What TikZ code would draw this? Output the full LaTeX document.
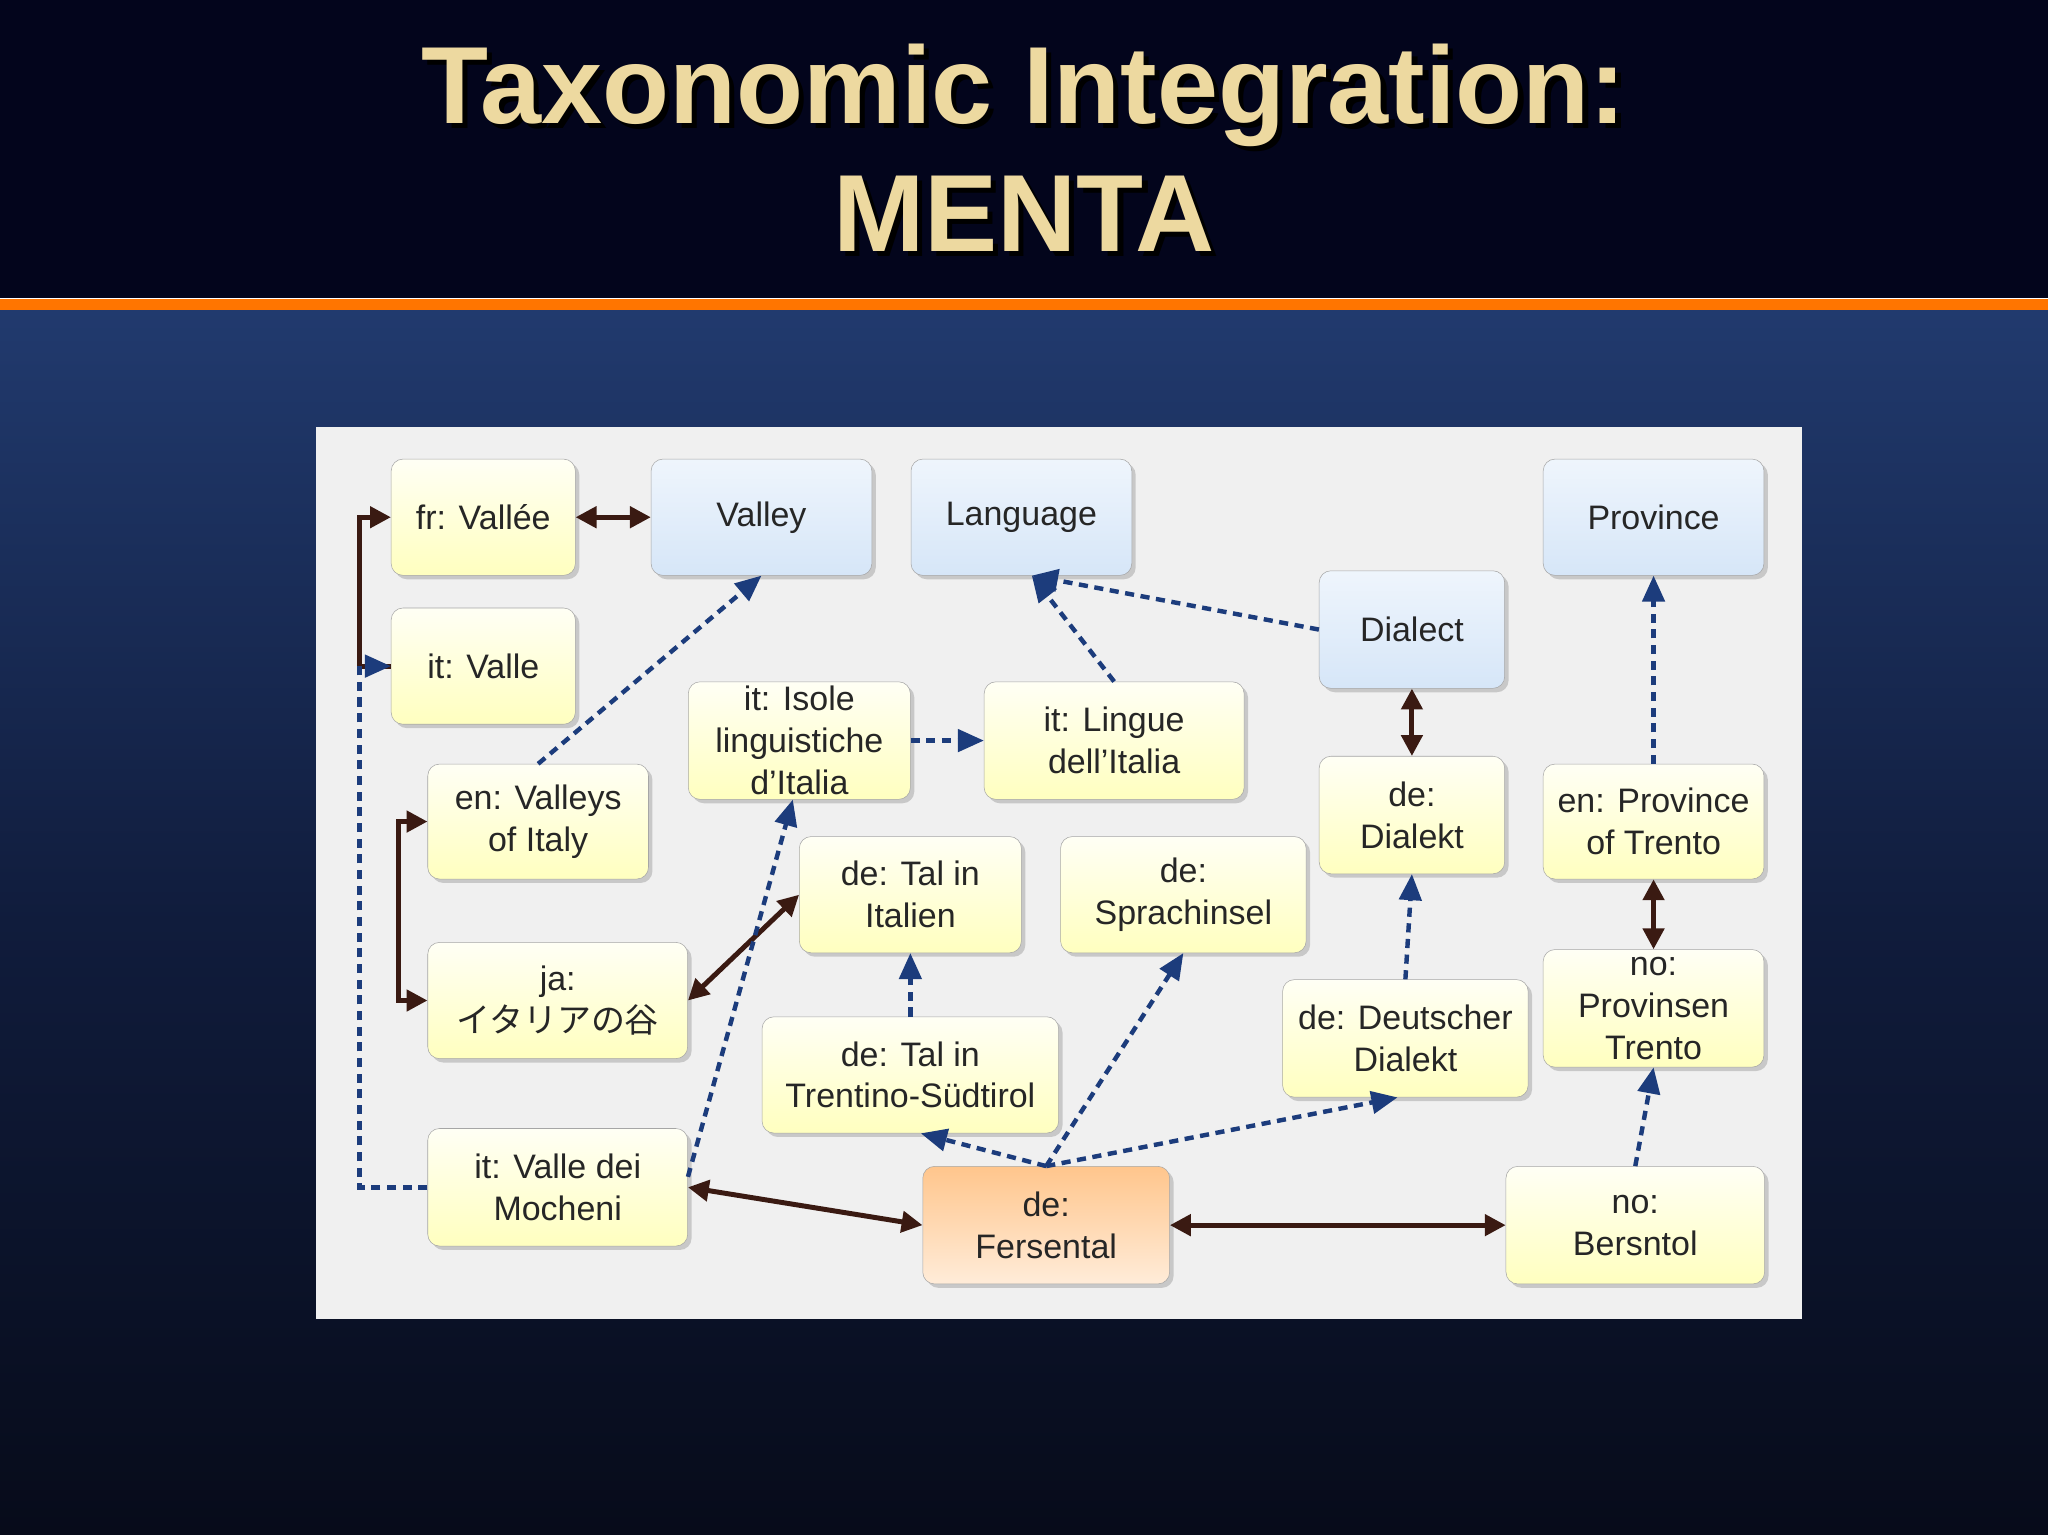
\documentclass[tikz,border=0pt]{standalone}
\usepackage{fontspec}
\setmainfont{Liberation Sans}
\newfontfamily\jpfont{Noto Sans CJK JP}
\usetikzlibrary{arrows.meta,shadows,calc}
\definecolor{tan}{HTML}{EDD9A0}
\definecolor{brn}{HTML}{3A1A12}
\definecolor{bl}{HTML}{1C3C7C}
\definecolor{bgtop}{HTML}{213A6E}
\definecolor{bgmid}{HTML}{101C3C}
\definecolor{bgbot}{HTML}{070B1A}
\definecolor{band}{HTML}{03051C}
\definecolor{bluebox}{HTML}{D6E6F8}
\tikzset{
 box/.style={draw=gray!70,rounded corners=9pt,align=center,inner sep=0pt,
   font=\fontsize{26}{32}\selectfont,text=black!85,
   drop shadow={shadow xshift=3pt,shadow yshift=-3pt,opacity=0.35}},
 ybox/.style={box,top color=yellow!4,bottom color=yellow!25!white},
 bbox/.style={box,top color=bluebox!40!white,bottom color=bluebox},
 obox/.style={box,top color=orange!45!white,bottom color=orange!15!white},
 dbl/.style={brn,line width=3.8pt,{Triangle[length=16pt,width=16pt]}-{Triangle[length=16pt,width=16pt]}},
 one/.style={brn,line width=3.8pt,-{Triangle[length=16pt,width=16pt]}},
 dsh/.style={bl,line width=3.4pt,dash pattern=on 7pt off 5pt,-{Triangle[length=20pt,width=17pt]}}
}
\newcommand\nd[6]{\node[#1,minimum width=#4pt,minimum height=#5pt] (#2) at (#3) {#6};}
\begin{document}
\begin{tikzpicture}[x=1pt,y=-1pt]
\useasboundingbox (0,0) rectangle (1568,1175);
\shade[top color=bgtop, bottom color=bgbot, middle color=bgmid] (0,237) rectangle (1568,1175);
\fill[band] (0,0) rectangle (1568,228);
\fill[orange!80!red!90!yellow] (0,229) rectangle (1568,237);
\node[text=black,font=\bfseries\fontsize{84}{98}\selectfont,align=center] at (788,117) {Taxonomic Integration:\\MENTA};
\node[text=tan,font=\bfseries\fontsize{84}{98}\selectfont,align=center] (title) at (784,113) {Taxonomic Integration:\\MENTA};
\fill[gray!12] (242,327) rectangle (1380,1010);
\nd{ybox}{fr}{370,396}{141}{89}{fr: Vallée}
\nd{bbox}{valley}{583,396}{169}{89}{Valley}
\nd{bbox}{lang}{782,396}{169}{89}{Language}
\nd{bbox}{prov}{1266,396}{169}{89}{Province}
\nd{bbox}{dial}{1081,482}{142}{90}{Dialect}
\nd{ybox}{itvalle}{370,510}{141}{89}{it: Valle}
\nd{ybox}{isole}{612,567}{170}{90}{it: Isole\\linguistiche\\d'Italia}
\nd{ybox}{lingue}{853,567}{199}{90}{it: Lingue\\dell'Italia}
\nd{ybox}{dedial}{1081,624}{142}{90}{de:\\Dialekt}
\nd{ybox}{enprov}{1266,629}{169}{88}{en: Province\\of Trento}
\nd{ybox}{envall}{412,629}{169}{88}{en: Valleys\\of Italy}
\nd{ybox}{talit}{697,685}{170}{89}{de: Tal in\\Italien}
\nd{ybox}{sprach}{906,685}{188}{89}{de:\\Sprachinsel}
\nd{ybox}{ja}{427,766}{199}{89}{ja:\\{\jpfont イタリアの谷}}
\nd{ybox}{noprov}{1266,772}{169}{90}{no:\\Provinsen\\Trento}
\nd{ybox}{deut}{1076,795}{188}{90}{de: Deutscher\\Dialekt}
\nd{ybox}{taltr}{697,823}{227}{89}{de: Tal in\\Trentino-Südtirol}
\nd{ybox}{moch}{427,909}{199}{90}{it: Valle dei\\Mocheni}
\nd{obox}{fers}{801,938}{189}{90}{de:\\Fersental}
\nd{ybox}{bers}{1252,938}{198}{90}{no:\\Bersntol}
% brown
\draw[dbl] (fr) -- (valley);
\draw[dbl] (dial) -- (dedial);
\draw[dbl] (enprov) -- (noprov);
\draw[dbl] (ja.east) -- (talit.west);
\draw[dbl] (moch.east) -- (fers.west);
\draw[dbl] (fers) -- (bers);
\draw[one] (itvalle.west) -- ++(-24,0) |- (fr.west);
\draw[dbl] (envall.west) -- ++(-22,0) |- (ja.west);
% blue
\draw[dsh] (envall.north) -- (valley.south);
\draw[dsh] (dial.west) -- ($(lang.south)+(8,0)$);
\draw[dsh] (lingue.north) -- ($(lang.south)+(8,0)$);
\draw[dsh] (isole.east) -- (lingue.west);
\draw[dsh] ($(moch.east)+(0,-8)$) -- ($(isole.south)+(-5,0)$);
\draw[dsh] (moch.west) -- ++(-52,0) |- (itvalle.west);
\draw[dsh] (taltr.north) -- (talit.south);
\draw[dsh] (fers.north) -- (sprach.south);
\draw[dsh] (fers.north) -- ($(deut.south)+(-6,0)$);
\draw[dsh] (fers.north) -- ($(taltr.south)+(8,0)$);
\draw[dsh] (deut.north) -- (dedial.south);
\draw[dsh] (enprov.north) -- (prov.south);
\draw[dsh] (bers.north) -- (noprov.south);
\end{tikzpicture}
\end{document}
